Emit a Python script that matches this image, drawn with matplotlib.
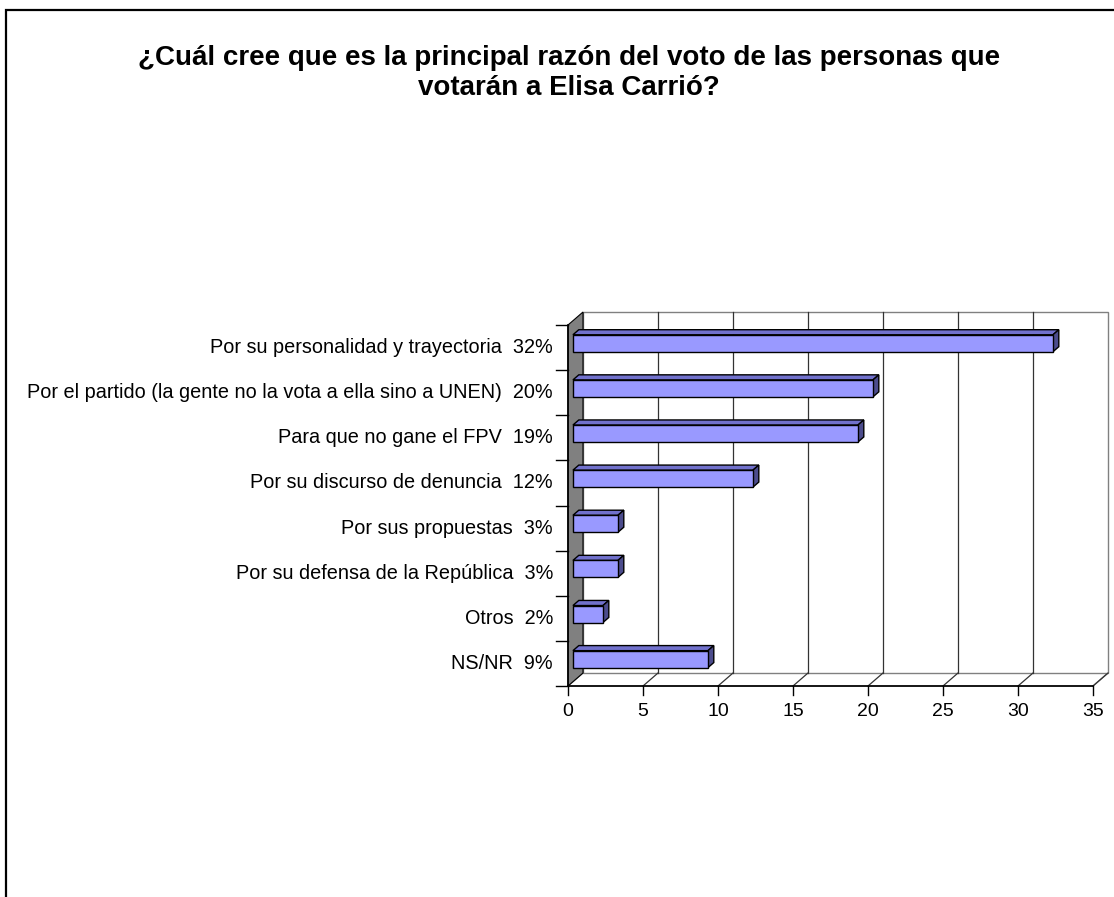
import matplotlib
matplotlib.use("Agg")
import matplotlib.pyplot as plt
from matplotlib.patches import Polygon, Rectangle

plt.rcParams['font.family'] = ['Liberation Sans', 'DejaVu Sans']

# ---- data ----
title = "¿Cuál cree que es la principal razón del voto de las personas que\nvotarán a Elisa Carrió?"
categories = [
    "Por su personalidad y trayectoria",
    "Por el partido (la gente no la vota a ella sino a UNEN)",
    "Para que no gane el FPV",
    "Por su discurso de denuncia",
    "Por sus propuestas",
    "Por su defensa de la República",
    "Otros",
    "NS/NR",
]
values = [32, 20, 19, 12, 3, 3, 2, 9]
xticks = [0, 5, 10, 15, 20, 25, 30, 35]

W, H = 1114, 897
fig = plt.figure(figsize=(W / 100, H / 100), dpi=100)

# outer border (open at right/bottom like reference)
fig.patches.append(Rectangle((6 / W, -0.1), 1.2, (H - 10) / H + 0.1, transform=fig.transFigure,
                             fill=False, edgecolor='black', linewidth=1.6, zorder=0))

fig.text(569 / W, 1 - 73 / H, title, ha='center', va='center', fontsize=20,
         fontweight='bold', linespacing=1.17)

ax = fig.add_axes([568 / W, (H - 686) / H, 525 / W, 361 / H])
ax.set_xlim(0, xticks[-1])
n = len(categories)
ax.set_ylim(n, 0)
ax.axis('off')

p0 = ax.transData.transform((0, 0))
p1 = ax.transData.transform((1, 1))
sx = p1[0] - p0[0]
sy = p1[1] - p0[1]
DEPTH_X, DEPTH_Y = 15.0, 13.0
ddx = DEPTH_X / sx
ddy = DEPTH_Y / sy


def P(x, y, d):
    return (x + d * ddx, y + d * ddy)


xmax = xticks[-1]
kw = dict(clip_on=False)
# floor
ax.add_patch(Polygon([P(0, n, 0), P(xmax, n, 0), P(xmax, n, 1), P(0, n, 1)],
                     facecolor='white', edgecolor='#808080', linewidth=1, zorder=1, **kw))
# back wall
ax.add_patch(Polygon([P(0, 0, 1), P(xmax, 0, 1), P(xmax, n, 1), P(0, n, 1)],
                     facecolor='white', edgecolor='#808080', linewidth=1, zorder=1, **kw))
for v in xticks[1:-1]:
    a, b = P(v, 0, 1), P(v, n, 1)
    ax.plot([a[0], b[0]], [a[1], b[1]], color='#333333', linewidth=0.9, zorder=2, **kw)
for v in xticks[1:]:
    a, b = P(v, n, 0), P(v, n, 1)
    ax.plot([a[0], b[0]], [a[1], b[1]], color='#333333', linewidth=0.9, zorder=2, **kw)
# side wall
ax.add_patch(Polygon([P(0, 0, 0), P(0, 0, 1), P(0, n, 1), P(0, n, 0)],
                     facecolor='#808080', edgecolor='black', linewidth=0.8, zorder=3, **kw))
# axes lines
ax.plot([0, 0], [0, n], color='black', linewidth=1.2, zorder=4, **kw)
ax.plot([0, xmax], [n, n], color='black', linewidth=1.2, zorder=4, **kw)
tick_x = -12 / sx
for k in range(n + 1):
    ax.plot([tick_x, 0], [k, k], color='black', linewidth=1.0, zorder=4, **kw)
tick_y = -9 / sy
for v in xticks:
    ax.plot([v, v], [n, n + tick_y], color='black', linewidth=1.0, zorder=4, **kw)
    ax.text(v, n + 25 / abs(sy), str(v), ha='center', va='center', fontsize=14, **kw)

# bars
d0, d1 = 0.33, 0.72
half = 8.5 / abs(sy)
for i, (cat, v) in enumerate(zip(categories, values)):
    yc = i + 0.5
    top, bot = yc - half, yc + half
    ax.add_patch(Polygon([P(0, top, d0), P(v, top, d0), P(v, top, d1), P(0, top, d1)],
                         facecolor='#7171CC', edgecolor='black', linewidth=1, zorder=5, **kw))
    ax.add_patch(Polygon([P(v, top, d0), P(v, bot, d0), P(v, bot, d1), P(v, top, d1)],
                         facecolor='#4C4C8C', edgecolor='black', linewidth=1, zorder=5, **kw))
    ax.add_patch(Polygon([P(0, top, d0), P(v, top, d0), P(v, bot, d0), P(0, bot, d0)],
                         facecolor='#9999FF', edgecolor='black', linewidth=1, zorder=6, **kw))
    ax.text(-15 / sx, yc, f"{cat}  {v}%", ha='right', va='center', fontsize=14.3, **kw)

fig.savefig('out.png', dpi=100)
